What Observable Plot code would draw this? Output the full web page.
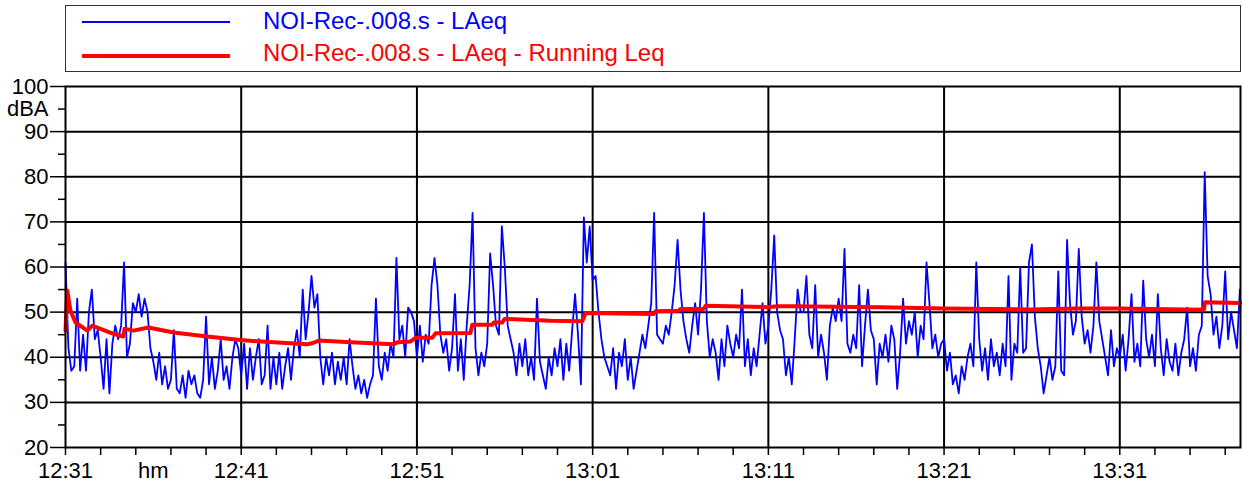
<!DOCTYPE html>
<html><head><meta charset="utf-8">
<script src="https://cdn.jsdelivr.net/npm/d3@7"></script>
<script src="https://cdn.jsdelivr.net/npm/@observablehq/plot@0.6"></script>
<style>
body{margin:0;background:#fff;font-family:"Liberation Sans",Arial,sans-serif;}
#wrap{position:relative;width:1242px;height:491px;overflow:hidden;}
#legend{position:absolute;left:65px;top:5px;width:1176px;height:67px;border:1px solid #333;box-sizing:border-box;}
.sw{position:absolute;left:82px;width:148px;}
.lab{position:absolute;left:263px;font-size:24px;line-height:24px;white-space:nowrap;}
#plot{position:absolute;left:0;top:76px;}
</style></head><body>
<div id="wrap"><div id="legend"></div><div id="plot"></div></div>
<script>
// ---- data ----
const seriesNames = ["NOI-Rec-.008.s - LAeq", "NOI-Rec-.008.s - LAeq - Running Leq"];
const stepSeconds = 10; // sampling of the LAeq trace, starting 12:31
const laeq = [
 61,42,37,38,53,37, 45,37,50,55,44,46, 40,33,44,32,43,47, 44,47,61,40,43,52, 50,54,49,53,50,42,
 39,35,41,34,38,33, 35,46,33,32,36,31, 37,34,36,32,31,35, 49,34,40,33,37,44, 35,38,33,40,44,42,
 36,43,33,42,35,40, 44,34,36,47,33,40, 34,41,33,38,42,35, 42,46,40,55,44,50, 58,51,54,40,34,40,
 36,41,34,39,35,40, 34,44,38,33,36,32, 35,31,34,36,53,38, 35,41,37,43,40,62, 44,47,40,51,50,48,
 40,47,39,45,43,56, 62,56,45,41,44,37, 42,54,37,44,35,47, 56,72,42,36,41,38, 43,63,56,47,45,69,
 60,47,44,41,36,43, 38,44,36,40,35,53, 39,36,33,40,36,42, 38,44,35,43,37,46, 54,45,34,71,61,69,
 57,58,50,44,40,38, 36,42,33,41,38,44, 35,40,33,37,41,45, 42,47,52,72,45,44, 43,47,45,50,56,66,
 55,48,44,41,47,52, 45,55,72,48,40,44, 41,35,44,38,47,43, 40,45,42,55,38,44, 36,42,38,45,52,43,
 47,55,67,50,46,44, 36,40,34,44,55,50, 50,58,45,42,56,40, 45,41,35,47,51,48, 53,48,64,43,41,45,
 42,56,38,47,55,46, 44,34,43,40,45,39, 47,44,33,41,53,43, 48,45,50,40,47,44, 61,52,42,45,40,43,
 44,37,41,34,36,32, 38,35,40,43,38,61, 44,37,42,35,44,38, 41,36,43,38,58,35, 43,41,60,41,42,61,
 65,49,42,38,32,36, 40,35,38,59,37,36, 66,52,45,48,64,49, 43,46,41,47,61,48, 44,40,36,46,38,42,
 40,45,37,44,54,39, 43,38,57,44,40,45, 38,54,42,36,44,39, 37,43,36,41,44,51, 38,42,37,45,47,81,
 58,54,45,49,42,47, 59,44,50,46,42,55
];
const runMinutes = [0,0.1,0.28,0.57,1.24,1.52,1.99,2.73,3.28,3.36,3.87,4.72,6.15,8.06,9.96,11.84,13.76,14.04,14.42,16.22,18.67,18.88,19.64,19.92,20.87,21.06,23.05,23.15,24.29,24.38,24.85,24.99,27.6,29.41,29.6,33.47,33.58,34.89,35.0,36.31,36.43,39.94,40.51,41.26,46.39,49.97,54.92,57.58,59.86,64.79,64.84,66.87];
const runLeq = [45.9,54.8,50.3,47.7,45.9,47.0,46.3,45.2,44.6,46.3,45.9,46.6,45.5,44.6,43.8,43.3,42.9,43.1,43.7,43.3,42.9,43.3,43.5,44.3,44.3,45.3,45.4,47.2,47.2,47.7,47.7,48.5,48.1,48.0,49.8,49.6,50.2,50.3,50.7,50.7,51.4,51.1,51.3,51.3,51.1,50.8,50.6,50.8,50.8,50.5,52.2,52.0];
const yMajor = [20,30,40,50,60,70,80,90,100];
const yMinor = [25,35,45,55,65,75,85,95];
const yUnit = "dBA", yUnitAt = 95;
const xMajor = [0,10,20,30,40,50,60];
const xMajorLabels = ["12:31","12:41","12:51","13:01","13:11","13:21","13:31"];
const xMinor = [2,4,6,8,12,14,16,18,22,24,26,28,32,34,36,38,42,44,46,48,52,54,56,58,62,64,66];
const xUnit = "hm", xUnitAt = 5;
const xEnd = 66.87;

// ---- legend ----
const leg = document.getElementById("wrap");
const colors = ["#0000ff", "#ff0000"];
const swTop = [21, 54], swW = [2, 4], labTop = [9, 41];
seriesNames.forEach((n, i) => {
  const s = document.createElement("div");
  s.className = "sw"; s.style.top = swTop[i] + "px";
  s.style.height = swW[i] + "px"; s.style.background = colors[i];
  leg.appendChild(s);
  const l = document.createElement("div");
  l.className = "lab"; l.style.top = labTop[i] + "px"; l.style.color = colors[i];
  l.textContent = n;
  leg.appendChild(l);
});

// ---- chart ----
const blue = laeq.map((v, i) => ({t: i * stepSeconds / 60, v}));
const red = runMinutes.map((t, i) => ({t, v: runLeq[i]}));
const gridY = yMajor.slice(1, -1);
const gridX = xMajor.slice(1);

const chart = Plot.plot({
  width: 1242, height: 415,
  marginLeft: 65, marginRight: 2, marginTop: 10, marginBottom: 44,
  style: {fontFamily: "Liberation Sans, Arial, sans-serif", fontSize: "22px", color: "#000", background: "#fff", overflow: "visible"},
  x: {domain: [0, xEnd], label: null},
  y: {domain: [20, 100], label: null},
  marks: [
    Plot.ruleY(gridY, {stroke: "#000", strokeWidth: 2}),
    Plot.ruleX(gridX, {stroke: "#000", strokeWidth: 2}),
    Plot.line(blue, {x: "t", y: "v", stroke: "#0000ff", strokeWidth: 1.8}),
    Plot.line(red, {x: "t", y: "v", stroke: "#ff0000", strokeWidth: 4}),
    Plot.frame({stroke: "#000", strokeWidth: 2}),
    Plot.axisY({ticks: yMajor, tickSize: 15, tickPadding: 2, tickFormat: d => String(d), fontSize: 22, strokeWidth: 1.5, label: null}),
    Plot.axisY({ticks: yMinor, tickSize: 7, tickPadding: 10, tickFormat: d => d === yUnitAt ? yUnit : "", fontSize: 22, strokeWidth: 1.5, label: null}),
    Plot.axisX({ticks: xMajor, tickSize: 8, tickPadding: 7, tickFormat: d => xMajorLabels[xMajor.indexOf(d)], fontSize: 22, strokeWidth: 1.5, label: null}),
    Plot.axisX({ticks: xMinor, tickSize: 8, tickPadding: 7, tickFormat: () => "", strokeWidth: 1.5, label: null}),
    Plot.axisX({ticks: [xUnitAt], tickSize: 0, tickPadding: 15, tickFormat: () => xUnit, fontSize: 22, label: null})
  ]
});
document.getElementById("plot").appendChild(chart);
</script>
</body></html>
